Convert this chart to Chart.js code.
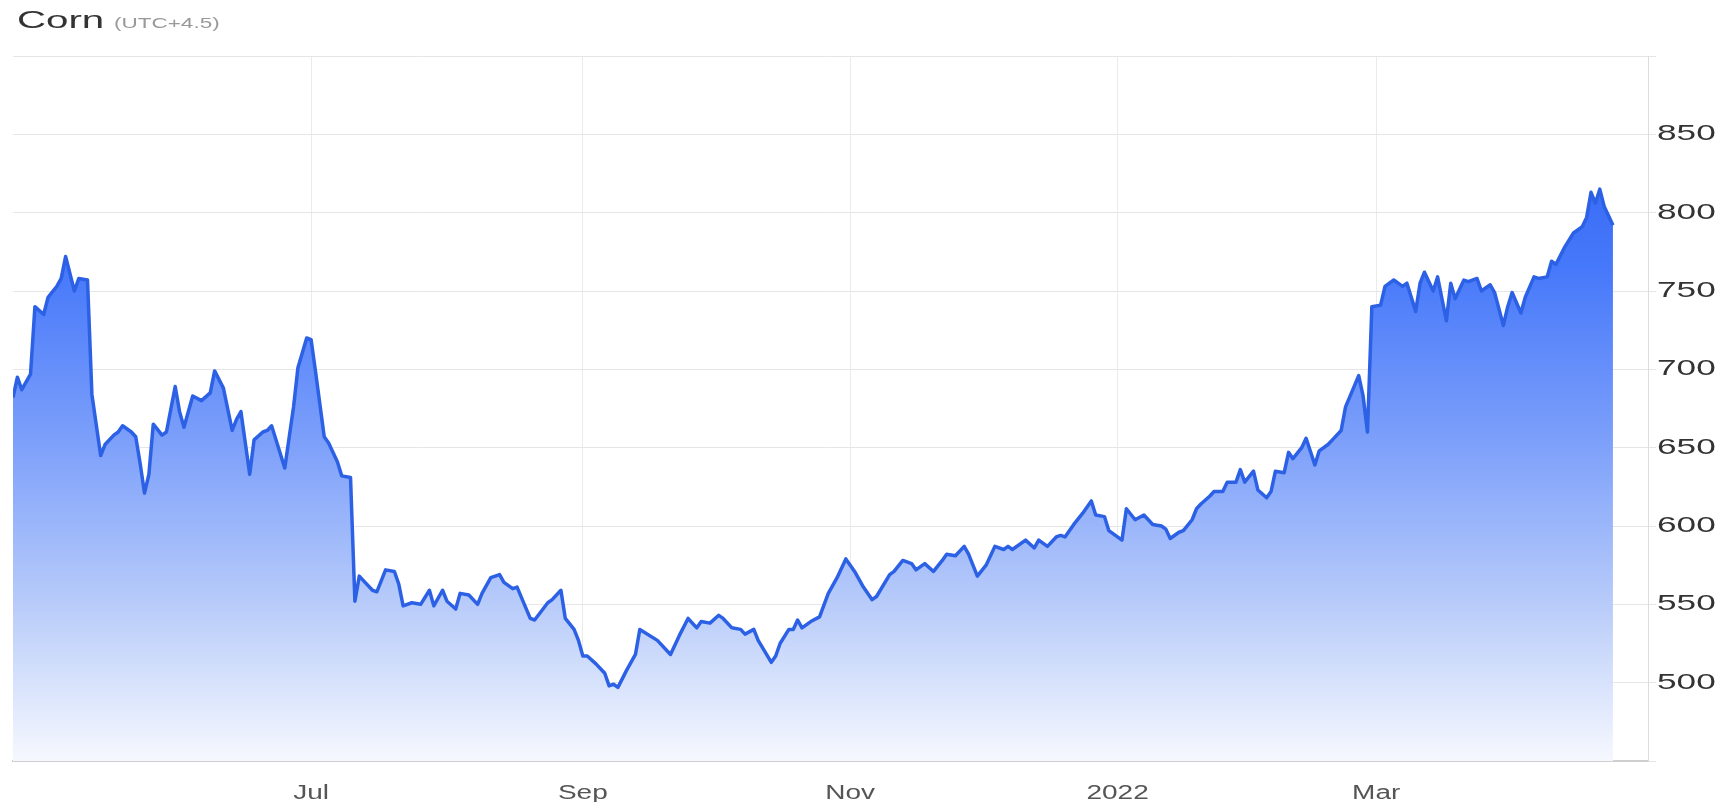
<!DOCTYPE html>
<html>
<head>
<meta charset="utf-8">
<script src="https://cdn.jsdelivr.net/npm/chart.js@4/dist/chart.umd.min.js"></script>
<style>
    html, body { margin: 0; padding: 0; background: #fff; }
</style>
</head>
<body>
<canvas id="cornChart" width="1734" height="802"></canvas>
<script>
// x = day number counted from 1 Jan 2021 (day 0)
const days = [113,114,115,117,118,120,121,123,124,125,127,128,130,131,133,134,136,137,138,140,141,142,143,144,145,147,148,150,151,152,154,156,158,159,161,163,164,165,167,168,170,171,172,175,177,178,180,181,182,184,185,187,188,190,191,192,193,195,196,198,200,201,202,204,206,208,209,211,212,214,215,217,219,220,222,224,225,227,228,231,232,235,236,238,239,241,242,243,244,246,248,249,250,251,253,255,256,260,263,265,267,269,270,272,274,275,277,279,280,282,283,286,287,288,290,291,292,293,295,297,299,301,303,305,307,309,310,313,314,316,318,319,321,323,325,326,328,330,331,333,335,337,339,340,341,344,346,347,349,351,352,353,355,357,359,360,362,363,366,367,369,371,373,375,376,377,379,380,382,383,384,386,387,389,390,392,393,394,396,397,399,400,401,403,404,405,407,408,410,411,413,414,416,417,420,421,422,423,425,426,428,429,430,431,433,434,435,437,438,440,441,442,444,445,447,448,450,451,453,454,455,457,458,460,461,463,464,465,467,469,471,472,473,474,475,476,477,478];

const corn = [682,695,687,697,740,735,746,753,758,772,750,758,757,684,645,652,658,660,664,660,657,640,621,633,665,658,660,689,673,663,683,680,685,699,688,661,668,673,633,655,660,661,664,637,676,701,720,719,699,657,653,641,632,631,552,568,565,559,558,572,571,563,549,551,550,559,549,559,552,547,557,556,550,557,567,569,564,560,561,541,540,551,553,559,541,534,527,517,517,512,506,498,499,497,508,518,534,527,518,530,541,535,539,538,543,541,535,534,531,534,527,513,517,525,534,534,540,535,539,542,557,567,579,571,561,553,555,569,571,578,576,572,576,571,578,582,581,587,582,568,575,587,585,587,585,591,586,591,587,593,594,593,601,608,616,607,606,597,591,611,604,607,601,600,598,592,596,597,604,611,614,619,622,622,628,628,636,628,635,623,618,622,635,634,647,643,650,656,639,648,652,655,661,676,696,683,660,740,741,753,757,755,753,755,737,755,762,750,759,731,755,745,757,756,758,750,754,749,728,740,749,736,746,759,758,759,769,767,778,787,791,797,813,806,815,804,798,792];

const monthTicks = [181, 243, 304, 365, 424];
const monthLabels = ['Jul', 'Sep', 'Nov', '2022', 'Mar'];
const yLabels = [500, 550, 600, 650, 700, 750, 800, 850];

const points = days.map((d, i) => ({ x: d, y: corn[i] }));

const FONT = '"Liberation Sans", Arial, sans-serif';

// the original's texts look horizontally stretched, so draw them by hand
function wideText(ctx, text, x, y, sx, align) {
    ctx.save();
    ctx.translate(x, y);
    ctx.scale(sx, 1);
    ctx.textAlign = align;
    ctx.fillText(text, 0, 0);
    ctx.restore();
}

const stretchedText = {
    id: 'stretchedText',
    afterDraw(chart) {
        const ctx = chart.ctx;
        const area = chart.chartArea;
        const xs = chart.scales.x, ys = chart.scales.y;
        ctx.save();
        ctx.textBaseline = 'alphabetic';

        // title
        ctx.font = '23px ' + FONT;
        ctx.fillStyle = '#333';
        wideText(ctx, 'Corn', 17, 28, 1.75, 'left');
        ctx.font = '15px ' + FONT;
        ctx.fillStyle = '#999';
        wideText(ctx, '(UTC+4.5)', 114, 28, 1.5, 'left');

        // y labels
        ctx.textBaseline = 'middle';
        ctx.font = '22px ' + FONT;
        ctx.fillStyle = '#333';
        yLabels.forEach(v => {
            wideText(ctx, String(v), area.right + 9, ys.getPixelForValue(v), 1.6, 'left');
        });

        // x labels
        ctx.font = '20px ' + FONT;
        ctx.fillStyle = '#555';
        monthTicks.forEach((v, i) => {
            wideText(ctx, monthLabels[i], xs.getPixelForValue(v), area.bottom + 32, 1.4, 'center');
        });
        ctx.restore();
    }
};

new Chart(document.getElementById('cornChart'), {
    type: 'line',
    data: {
        datasets: [{
            data: points,
            borderColor: '#2c61e6',
            borderWidth: 3.5,
            borderJoinStyle: 'round',
            pointRadius: 0,
            tension: 0,
            fill: 'start',
            backgroundColor: ctx => {
                const area = ctx.chart.chartArea;
                if (!area) return 'rgba(60,110,245,0.5)';
                const g = ctx.chart.ctx.createLinearGradient(0, area.top, 0, area.bottom);
                g.addColorStop(0, 'rgb(38,92,240)');
                g.addColorStop(0.3, 'rgb(70,120,250)');
                g.addColorStop(0.55, 'rgb(125,160,250)');
                g.addColorStop(0.8, 'rgb(190,208,250)');
                g.addColorStop(1, 'rgb(246,248,254)');
                return g;
            }
        }]
    },
    options: {
        responsive: false,
        animation: false,
        layout: { padding: { top: 56, left: 13, right: 0, bottom: 0 } },
        plugins: {
            legend: { display: false },
            tooltip: { enabled: false }
        },
        scales: {
            x: {
                type: 'linear',
                min: 113,
                max: 486,
                afterBuildTicks: s => { s.ticks = monthTicks.map(v => ({ value: v })); },
                afterFit: s => { s.height = 41; },
                grid: { color: '#ebebeb', drawTicks: false },
                border: { color: '#cfcfcf', width: 2 },
                ticks: { display: false }
            },
            y: {
                position: 'right',
                min: 450,
                max: 900,
                afterFit: s => { s.width = 86; },
                ticks: { stepSize: 50, display: false },
                grid: { color: '#e6e6e6', tickLength: 8, tickColor: '#e6e6e6' },
                border: { color: '#dcdcdc' }
            }
        }
    },
    plugins: [stretchedText]
});
</script>
</body>
</html>
